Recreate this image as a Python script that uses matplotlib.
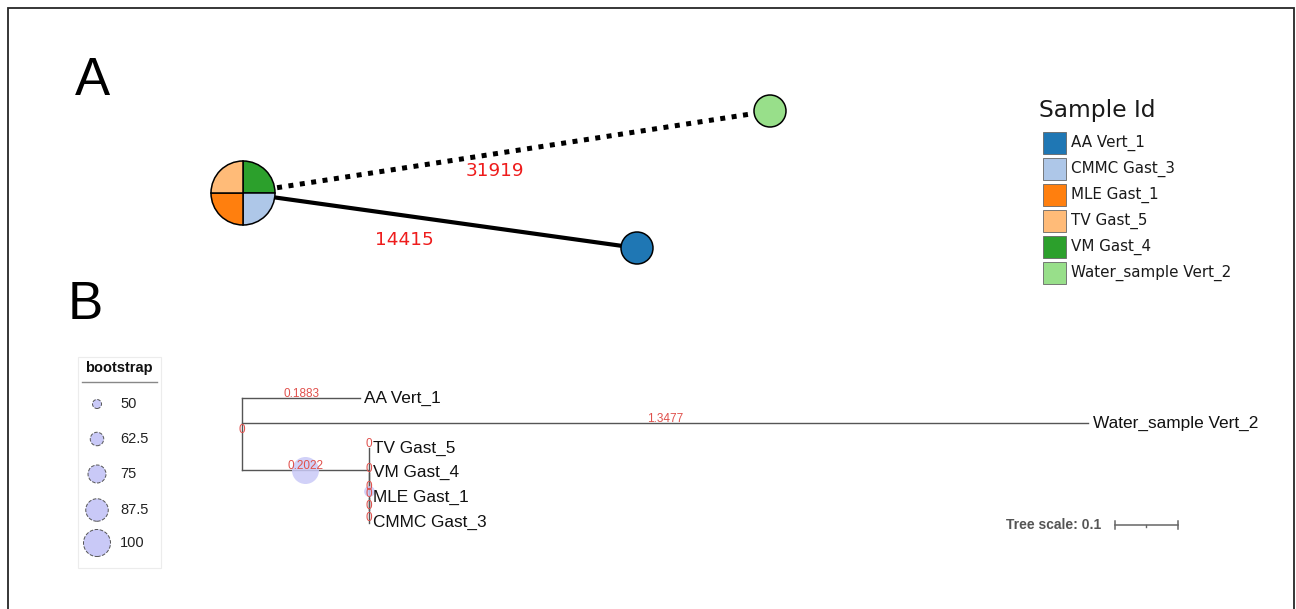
import math
import matplotlib.pyplot as plt

# ---- panel A: sample network ----
SAMPLES = ["AA Vert_1", "CMMC Gast_3", "MLE Gast_1", "TV Gast_5", "VM Gast_4", "Water_sample Vert_2"]
SAMPLE_COLORS = ["#1f77b4", "#aec7e8", "#ff7f0e", "#ffbb78", "#2ca02c", "#98df8a"]

# members of each network node (wedges go clockwise from 12 o'clock)
NODE_MEMBERS = [
    ["VM Gast_4", "CMMC Gast_3", "MLE Gast_1", "TV Gast_5"],
    ["AA Vert_1"],
    ["Water_sample Vert_2"],
]
NODE_XY = [(243, 193), (637, 248), (770, 111)]

# edges: (from node, to node, distance)
EDGES = [(0, 1, 14415), (0, 2, 31919)]
EDGE_STYLE = ["solid", "dotted"]
EDGE_LABEL_XY = [(404, 240), (495, 171)]

# ---- panel B: tree (name, branch length, bootstrap, children) ----
TREE = ("", 0.0, None, [
    ("AA Vert_1", 0.1883, None, []),
    ("Water_sample Vert_2", 1.3477, None, []),
    ("", 0.2022, 100, [
        ("TV Gast_5", 0.0, None, []),
        ("", 0.0, 55, [
            ("VM Gast_4", 0.0, None, []),
            ("", 0.0, None, [
                ("MLE Gast_1", 0.0, None, []),
                ("CMMC Gast_3", 0.0, None, []),
            ]),
        ]),
    ]),
])
BOOT_LEGEND = [50, 62.5, 75, 87.5, 100]
TREE_SCALE = 0.1

RED = "#e0504c"
TREE_GREY = "#555555"
BOOT_FILL = "#c9c9f7"

W, H = 1296, 609
PX_PER_UNIT = 628
ROOT_PX = 242
ROW0_PX = 398.5
ROW_STEP = 24.8


def boot_radius(v):
    # circle radius in pixels for a bootstrap value
    return 4.5 + (v - 50) * 0.18


def boot_size(v):
    return (2 * boot_radius(v) * 72 / 100) ** 2


fig = plt.figure(figsize=(W / 100, H / 100), dpi=100)
ax = fig.add_axes([0, 0, 1, 1])

# frame round the figure
ax.plot([7.5, 7.5, 1293.5, 1293.5], [609, 8, 8, 609], color="#262626", lw=1.3, solid_joinstyle="miter")

ax.text(92, 81, "A", fontsize=38, family="Liberation Sans", ha="center", va="center")
ax.text(85, 305, "B", fontsize=38, family="Liberation Sans", ha="center", va="center")

# network edges
for (a, b, dist), style, (lx, ly) in zip(EDGES, EDGE_STYLE, EDGE_LABEL_XY):
    (x0, y0), (x1, y1) = NODE_XY[a], NODE_XY[b]
    if style == "dotted":
        ax.plot([x0, x1], [y0, y1], color="black", lw=3.6, linestyle=(0, (1, 1.3)),
                dash_capstyle="butt", zorder=1)
    else:
        ax.plot([x0, x1], [y0, y1], color="black", lw=3.0, zorder=1)
    ax.text(lx, ly, str(dist), color="#ee1c1c", fontsize=13.3, family="DejaVu Sans",
            ha="center", va="center")

# network nodes as pies
color_of = dict(zip(SAMPLES, SAMPLE_COLORS))
for members, (cx, cy) in zip(NODE_MEMBERS, NODE_XY):
    r = 16 * math.sqrt(len(members))
    ax.pie([1] * len(members), colors=[color_of[m] for m in members], center=(cx, cy),
           radius=r, startangle=-90, counterclock=True, frame=True,
           wedgeprops=dict(edgecolor="black", linewidth=1.1, zorder=3))

# sample legend
ax.text(1039, 110, "Sample Id", fontsize=16.8, family="DejaVu Sans", ha="left", va="center", color="#1a1a1a")
for i, (name, col) in enumerate(zip(SAMPLES, SAMPLE_COLORS)):
    yc = 143 + i * 26
    ax.add_patch(plt.Rectangle((1043, yc - 11), 23, 22, facecolor=col, edgecolor="#666666", lw=0.6))
    ax.text(1071, yc, name, fontsize=10.9, family="DejaVu Sans", ha="left", va="center", color="#1a1a1a")

# bootstrap legend
ax.add_patch(plt.Rectangle((78, 357), 83, 211, facecolor="white", edgecolor="#ececec", lw=0.8))
ax.text(119, 368, "bootstrap", fontsize=10.5, fontweight="bold", family="Liberation Sans",
        ha="center", va="center", color="#111111")
ax.plot([82, 157], [382, 382], color="#888888", lw=1)
boot_rows = [404, 439, 474, 510, 543]
ax.scatter([97] * len(BOOT_LEGEND), boot_rows, s=[boot_size(v) for v in BOOT_LEGEND],
           facecolor=BOOT_FILL, edgecolor="#555555", linewidths=0.7, linestyles="--", zorder=3)
for v, y in zip(BOOT_LEGEND, boot_rows):
    ax.text(120, y, f"{v:g}", fontsize=10.5, family="Liberation Sans", ha="left", va="center", color="#222222")

# tree scale label
ax.text(1101, 525, "Tree scale: " + f"{TREE_SCALE:g}", fontsize=10, fontweight="bold",
        family="Liberation Sans", ha="right", va="center", color="#555555")

ax.set_xlim(0, W)
ax.set_ylim(H, 0)
ax.set_aspect("auto")
ax.axis("off")

# ---- tree axes: x in branch length units, y in leaf rows ----
tax = fig.add_axes([0, 0, 1, 1])
tax.patch.set_alpha(0)
tax.set_xlim(-ROOT_PX / PX_PER_UNIT, (W - ROOT_PX) / PX_PER_UNIT)
tax.set_ylim((H - ROW0_PX) / ROW_STEP, -ROW0_PX / ROW_STEP)
tax.axis("off")

leaf_counter = [0]


def layout(node, parent_x):
    name, bl, boot, children = node
    x = parent_x + bl
    if not children:
        row = leaf_counter[0]
        leaf_counter[0] += 1
        kids = []
    else:
        kids = [layout(c, x) for c in children]
        row = (kids[0]["row"] + kids[-1]["row"]) / 2
    return dict(name=name, bl=bl, boot=boot, x=x, px=parent_x, row=row, kids=kids)


def draw(n):
    if n["bl"] > 0:
        tax.plot([n["px"], n["x"]], [n["row"], n["row"]], color=TREE_GREY, lw=1.0)
    if n["kids"]:
        tax.plot([n["x"], n["x"]], [n["kids"][0]["row"], n["kids"][-1]["row"]], color=TREE_GREY, lw=1.0)
    mid = (n["px"] + n["x"]) / 2
    if n["boot"] is not None:
        tax.scatter([mid], [n["row"]], s=boot_size(n["boot"]), color=BOOT_FILL, alpha=0.85,
                    linewidths=0, zorder=2)
    tax.annotate(f"{n['bl']:g}", (mid, n["row"]), xytext=(0, 3), textcoords="offset points",
                 color=RED, fontsize=8.5, family="Liberation Sans", ha="center", va="center", zorder=4)
    if not n["kids"]:
        tax.annotate(n["name"], (n["x"], n["row"]), xytext=(3, 0), textcoords="offset points",
                     fontsize=12.4, family="Liberation Sans", ha="left", va="center", color="#111111")
    for k in n["kids"]:
        draw(k)


draw(layout(TREE, 0.0))

# scale bar
sx0 = (1115 - ROOT_PX) / PX_PER_UNIT
sy = (525 - ROW0_PX) / ROW_STEP
tick = 0.17
tax.plot([sx0, sx0 + TREE_SCALE], [sy, sy], color="#666666", lw=1.1)
for xx in (sx0, sx0 + TREE_SCALE):
    tax.plot([xx, xx], [sy - tick, sy + tick], color="#666666", lw=1.1)
tax.plot([sx0 + TREE_SCALE / 2] * 2, [sy, sy + 0.1], color="#666666", lw=1.0)

fig.savefig("out.png", dpi=100)
